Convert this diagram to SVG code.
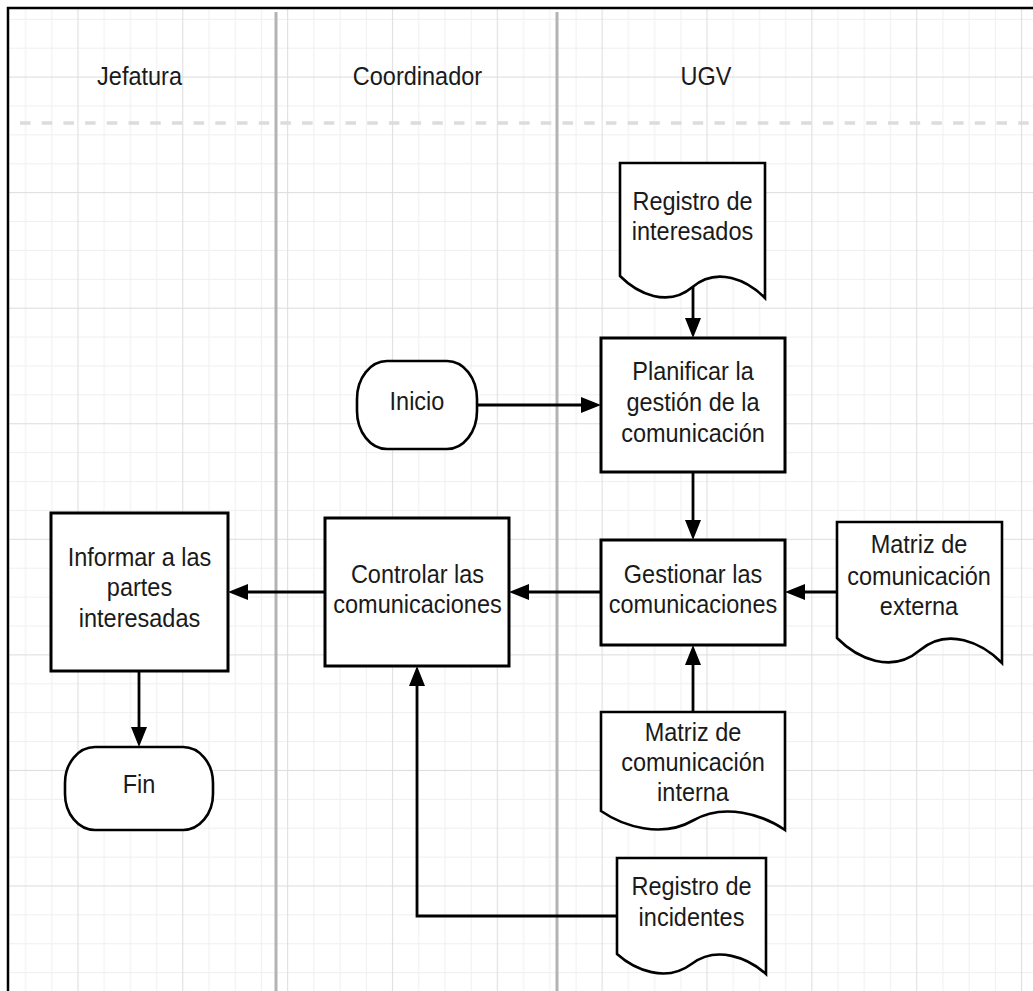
<svg xmlns="http://www.w3.org/2000/svg" width="1033" height="991" viewBox="0 0 1033 991">
  <defs>
    <pattern id="grid" patternUnits="userSpaceOnUse" x="12.5" y="4.85" width="104.84" height="115.56">
      <path d="M13.1,0 V115.56 M39.31,0 V115.56 M91.73,0 V115.56 M0,14.45 H104.84 M0,43.34 H104.84 M0,101.12 H104.84" stroke="#efefef" stroke-width="1" fill="none"/>
      <path d="M65.52,0 V115.56 M0,72.23 H104.84" stroke="#dcdcdc" stroke-width="1" fill="none"/>
    </pattern>
    <marker id="arrow" viewBox="0 0 20 16" refX="10" refY="8" markerWidth="20" markerHeight="16" markerUnits="userSpaceOnUse" orient="auto">
      <path d="M0,0 L20,8 L0,16 Z" fill="#000"/>
    </marker>
  </defs>
  <style>
    text { font-family: "Liberation Sans", Arial, sans-serif; font-size: 25px; fill: #1a1a1a; text-anchor: middle;
           transform-box: fill-box; transform-origin: center; transform: scaleX(0.94); }
    .box { fill: #fff; stroke: #000; stroke-width: 3; }
    .doc { fill: #fff; stroke: #000; stroke-width: 2.6; stroke-linejoin: miter; }
    .term { fill: #fff; stroke: #000; stroke-width: 2.6; }
    .conn { fill: none; stroke: #000; stroke-width: 2.8; marker-end: url(#arrow); }
    .lane { stroke: #b3b3b3; stroke-width: 3; fill: none; }
  </style>

  <!-- canvas and grid -->
  <rect x="0" y="0" width="1033" height="991" fill="#fff"/>
  <rect x="8" y="8" width="1025" height="983" fill="url(#grid)"/>

  <!-- swimlanes -->
  <g id="lanes">
    <path d="M20,123 H1033" stroke="#dcdcdc" stroke-width="3.5" stroke-dasharray="10.5 11.2" fill="none"/>
    <path class="lane" d="M276,12 V991 M557,12 V991"/>
    <text x="139.5" y="85">Jefatura</text>
    <text x="417.5" y="85">Coordinador</text>
    <text x="706" y="85">UGV</text>
  </g>

  <!-- outer frame -->
  <path d="M8,991 V8 H1033" fill="none" stroke="#000" stroke-width="2.5"/>

  <!-- connectors -->
  <g id="connectors">
    <path class="conn" d="M693,287 V328"/>
    <path class="conn" d="M477,405 H591"/>
    <path class="conn" d="M693,472 V530"/>
    <path class="conn" d="M837,592 H795"/>
    <path class="conn" d="M601,592 H519"/>
    <path class="conn" d="M325,592 H238"/>
    <path class="conn" d="M139,671 V737"/>
    <path class="conn" d="M693,712 V655"/>
    <path class="conn" d="M617,916 H417 V676"/>
  </g>

  <!-- nodes -->
  <g id="registro-interesados">
    <path class="doc" d="M620,163 H765 V298 C747.6,280.4 717.2,266.1 692.5,287 C667.9,307.9 637.4,293.6 620,276 Z"/>
    <text x="692.5" y="210">Registro de</text>
    <text x="692.5" y="240">interesados</text>
  </g>

  <g id="inicio">
    <rect class="term" x="357" y="361" width="120" height="88" rx="30" ry="38"/>
    <text x="417" y="410">Inicio</text>
  </g>

  <g id="planificar">
    <rect class="box" x="601" y="338" width="184" height="134"/>
    <text x="693" y="380">Planificar la</text>
    <text x="693" y="411">gestión de la</text>
    <text x="693" y="442">comunicación</text>
  </g>

  <g id="gestionar">
    <rect class="box" x="601" y="540" width="184" height="105"/>
    <text x="693" y="583">Gestionar las</text>
    <text x="693" y="613">comunicaciones</text>
  </g>

  <g id="controlar">
    <rect class="box" x="325" y="518" width="184" height="148"/>
    <text x="417.5" y="583">Controlar las</text>
    <text x="417.5" y="613">comunicaciones</text>
  </g>

  <g id="informar">
    <rect class="box" x="51" y="513" width="177" height="158"/>
    <text x="139.5" y="566">Informar a las</text>
    <text x="139.5" y="596">partes</text>
    <text x="139.5" y="627">interesadas</text>
  </g>

  <g id="fin">
    <rect class="term" x="65" y="747" width="148" height="83" rx="30" ry="36"/>
    <text x="139" y="793">Fin</text>
  </g>

  <g id="matriz-externa">
    <path class="doc" d="M837,522 H1002 V663 C982.2,643 947.6,626.75 919.5,650.5 C891.5,674.25 856.8,658 837,638 Z"/>
    <text x="919" y="553">Matriz de</text>
    <text x="919" y="585">comunicación</text>
    <text x="919" y="615">externa</text>
  </g>

  <g id="matriz-interna">
    <path class="doc" d="M601,712 H785 V830 C762.9,814.8 724.3,802.45 693,820.5 C661.7,838.55 623.1,826.2 601,811 Z"/>
    <text x="693" y="741">Matriz de</text>
    <text x="693" y="771">comunicación</text>
    <text x="693" y="801">interna</text>
  </g>

  <g id="registro-incidentes">
    <path class="doc" d="M617,858 H766 V974 C748.1,958 716.8,945 691.5,964 C666.2,983 634.9,970 617,954 Z"/>
    <text x="691.5" y="895">Registro de</text>
    <text x="691.5" y="926">incidentes</text>
  </g>
</svg>
